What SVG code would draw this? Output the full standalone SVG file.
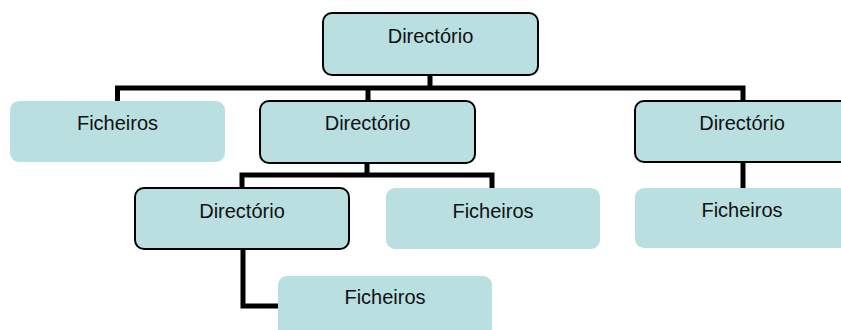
<svg xmlns="http://www.w3.org/2000/svg" width="841" height="330" viewBox="0 0 841 330">
<style>
.dir{fill:#b9dfe1;stroke:#000;stroke-width:2}
.fic{fill:#b9dfe1;stroke:none}
.t{font-family:"Liberation Sans",Arial,sans-serif;font-size:20px;fill:#111;text-anchor:middle}
.c{fill:none;stroke:#000;stroke-width:5;stroke-linejoin:miter}
</style>
<rect width="841" height="330" fill="#fff"/>
<g id="connectors">
<path class="c" d="M430 75V88M117.5 101V88H743V101M368 88V101"/>
<path class="c" d="M743 162V188"/>
<path class="c" d="M367 163V175M242 188V175H492V188"/>
<path class="c" d="M243 249V306H280"/>
</g>
<g id="n-root"><rect class="dir" x="323" y="13" width="215" height="62" rx="9"/><text class="t" x="430.5" y="43">Directório</text></g>
<g id="n-fic1"><rect class="fic" x="10" y="101" width="215" height="61" rx="9"/><text class="t" x="117.5" y="130">Ficheiros</text></g>
<g id="n-dir2"><rect class="dir" x="260" y="101" width="215" height="62" rx="9"/><text class="t" x="367.5" y="130">Directório</text></g>
<g id="n-dir3"><rect class="dir" x="635" y="101" width="215" height="61" rx="9"/><text class="t" x="742" y="130">Directório</text></g>
<g id="n-fic3"><rect class="fic" x="635" y="188" width="215" height="60" rx="9"/><text class="t" x="742" y="217">Ficheiros</text></g>
<g id="n-dir4"><rect class="dir" x="135" y="188" width="214" height="61" rx="9"/><text class="t" x="242" y="218">Directório</text></g>
<g id="n-fic2"><rect class="fic" x="386" y="188" width="214" height="61" rx="9"/><text class="t" x="493" y="218">Ficheiros</text></g>
<g id="n-fic4"><rect class="fic" x="278" y="276" width="214" height="62" rx="9"/><text class="t" x="385" y="304">Ficheiros</text></g>
</svg>
